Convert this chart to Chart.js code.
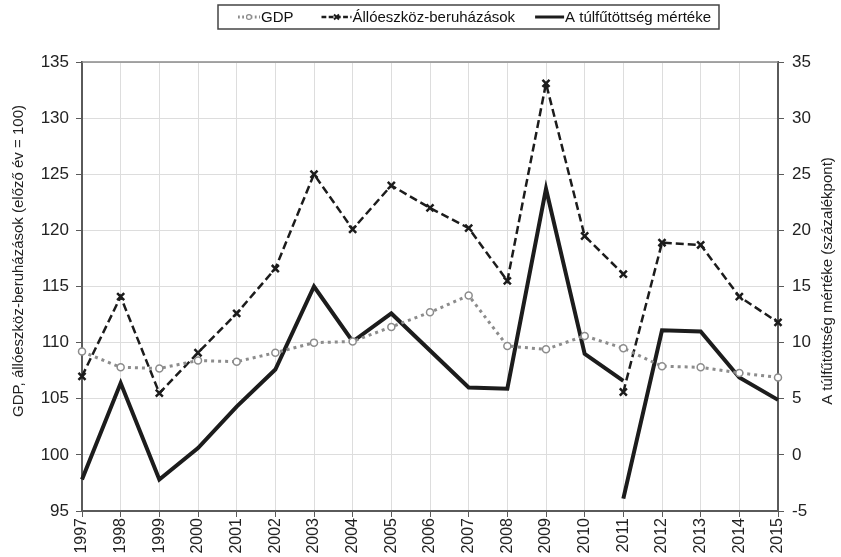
<!DOCTYPE html>
<html lang="hu">
<head>
<meta charset="utf-8">
<script src="https://cdn.jsdelivr.net/npm/chart.js@4.4.1/dist/chart.umd.min.js"></script>
<style>
  html, body { margin: 0; padding: 0; background: #fff; }
  #wrap { width: 841px; height: 557px; position: relative; }
</style>
</head>
<body>
<div id="wrap"><canvas id="chart"></canvas></div>
<script>
// ---- Adatok ----
const years = ['1997', '1998', '1999', '2000', '2001', '2002', '2003', '2004', '2005', '2006',
               '2007', '2008', '2009', '2010', '2011', '2012', '2013', '2014', '2015'];
const gdp = [109.2, 107.8, 107.7, 108.4, 108.3, 109.1, 110.0, 110.1, 111.4, 112.7,
             114.2, 109.7, 109.4, 110.6, 109.5, 107.9, 107.8, 107.3, 106.9];
// 2011-ben törés: két érték ugyanarra az évre
const beruhazasElotte = [107.0, 114.1, 105.5, 109.1, 112.6, 116.6, 125.0, 120.1, 124.0, 122.0,
                         120.2, 115.5, 133.1, 119.5, 116.1];          // 1997-2011
const beruhazasUtana = [105.6, 118.9, 118.7, 114.1, 111.8];          // 2011-2015
const tulfutottsegElotte = [-2.2, 6.4, -2.2, 0.6, 4.3, 7.6, 15.0, 10.1, 12.6, 9.3,
                            6.0, 5.9, 23.7, 9.0, 6.6];                 // 1997-2011
const tulfutottsegUtana = [-3.9, 11.1, 11.0, 6.9, 4.9];               // 2011-2015

const leftRange  = { min: 95, max: 135, step: 5 };
const rightRange = { min: -5, max: 35, step: 5 };

const FONT = "'Liberation Sans', Arial, sans-serif";
const INK = '#1c1c1c';
const GREY = '#8c8c8c';
const AXIS = '#5a5a5a';
const GRID = '#dddddd';

const padEnd   = arr => arr.concat(Array(years.length - arr.length).fill(null));
const padStart = arr => Array(years.length - arr.length).fill(null).concat(arr);

const gdpStyle = {
    borderColor: GREY, borderWidth: 3, borderDash: [3, 4],
    pointStyle: 'circle', pointRadius: 3.5, pointBorderWidth: 1.5,
    pointBorderColor: GREY, pointBackgroundColor: '#fff'
};
const invStyle = {
    borderColor: INK, borderWidth: 2.5, borderDash: [8, 4],
    pointStyle: 'crossRot', pointRadius: 5, pointBorderWidth: 2.5,
    pointBorderColor: INK, pointBackgroundColor: INK
};
const heatStyle = {
    borderColor: INK, borderWidth: 4, borderDash: [],
    pointRadius: 0, pointStyle: false
};

// ---- Legend + keret + tengelycímek ----
const decor = {
    id: 'decor',
    afterDraw(chart) {
        const { ctx, chartArea: a } = chart;
        ctx.save();

        // felső keret
        ctx.strokeStyle = '#8a8a8a';
        ctx.lineWidth = 1.5;
        ctx.beginPath();
        ctx.moveTo(a.left, a.top);
        ctx.lineTo(a.right, a.top);
        ctx.stroke();

        // tengelycímek
        ctx.fillStyle = '#222';
        ctx.font = `15px ${FONT}`;
        ctx.textAlign = 'center';
        ctx.textBaseline = 'middle';
        ctx.save();
        ctx.translate(19, 261);
        ctx.rotate(-Math.PI / 2);
        ctx.fillText('GDP, állóeszköz-beruházások (előző év = 100)', 0, 0);
        ctx.restore();
        ctx.save();
        ctx.translate(828, 281);
        ctx.rotate(-Math.PI / 2);
        ctx.fillText('A túlfűtöttség mértéke (százalékpont)', 0, 0);
        ctx.restore();

        // jelmagyarázat
        const items = [
            { text: 'GDP', style: gdpStyle, w: 22, gap: 28 },
            { text: 'Állóeszköz-beruházások', style: invStyle, w: 30, gap: 20 },
            { text: 'A túlfűtöttség mértéke', style: heatStyle, w: 29, gap: 0 }
        ];
        ctx.font = `15px ${FONT}`;
        const padL = 20, padR = 8;
        const total = items.reduce((s, it) => s + it.w + 1 + ctx.measureText(it.text).width + it.gap, 0);
        const boxW = padL + total + padR;
        const boxX = 218, boxY = 5, boxH = 24;
        ctx.strokeStyle = '#444';
        ctx.lineWidth = 1.5;
        ctx.strokeRect(boxX, boxY, boxW, boxH);

        const cy = boxY + boxH / 2;
        let x = boxX + padL;
        items.forEach(it => {
            const s = it.style;
            ctx.save();
            ctx.strokeStyle = s.borderColor;
            ctx.lineWidth = Math.min(s.borderWidth, 3);
            ctx.setLineDash(s.borderDash.length ? s.borderDash.map(v => v * 0.6) : []);
            ctx.beginPath();
            ctx.moveTo(x, cy);
            ctx.lineTo(x + it.w, cy);
            ctx.stroke();
            ctx.setLineDash([]);
            if (s.pointStyle) {
                ctx.strokeStyle = s.pointBorderColor;
                ctx.fillStyle = s.pointBackgroundColor;
                ctx.lineWidth = s.pointBorderWidth * 0.8;
                Chart.helpers.drawPoint(ctx, {
                    pointStyle: s.pointStyle, rotation: 0,
                    radius: s.pointRadius * 0.7, borderWidth: s.pointBorderWidth * 0.8
                }, x + it.w / 2, cy);
            }
            ctx.restore();
            ctx.fillStyle = '#111';
            ctx.textAlign = 'left';
            ctx.textBaseline = 'middle';
            ctx.fillText(it.text, x + it.w + 1, cy + 1);
            x += it.w + 1 + ctx.measureText(it.text).width + it.gap;
        });

        ctx.restore();
    }
};

new Chart(document.getElementById('chart'), {
    type: 'line',
    data: {
        labels: years,
        datasets: [
            { label: 'GDP', data: gdp, yAxisID: 'y', ...gdpStyle },
            { label: 'Állóeszköz-beruházások', data: padEnd(beruhazasElotte), yAxisID: 'y', ...invStyle },
            { label: 'Állóeszköz-beruházások (2011-től)', data: padStart(beruhazasUtana), yAxisID: 'y', ...invStyle },
            { label: 'A túlfűtöttség mértéke', data: padEnd(tulfutottsegElotte), yAxisID: 'y1', ...heatStyle },
            { label: 'A túlfűtöttség mértéke (2011-től)', data: padStart(tulfutottsegUtana), yAxisID: 'y1', ...heatStyle }
        ]
    },
    options: {
        responsive: true,
        maintainAspectRatio: false,
        animation: false,
        layout: { padding: { top: 62, left: 0, right: 0, bottom: 0 } },
        elements: { line: { tension: 0, borderJoinStyle: 'miter' } },
        plugins: {
            legend: { display: false },
            tooltip: { enabled: false }
        },
        scales: {
            x: {
                grid: { color: GRID, tickColor: AXIS, tickLength: 6 },
                border: { color: AXIS, width: 2 },
                ticks: {
                    autoSkip: false, minRotation: 90, maxRotation: 90,
                    color: '#222', padding: 1,
                    font: { family: FONT, size: 16 }
                },
                afterFit: s => { s.height = 46; }
            },
            y: {
                position: 'left',
                min: leftRange.min, max: leftRange.max,
                grid: { color: GRID, tickColor: AXIS, tickLength: 6 },
                border: { color: AXIS, width: 2 },
                ticks: {
                    stepSize: leftRange.step, color: '#222', padding: 7,
                    font: { family: FONT, size: 17 }
                },
                afterFit: s => { s.width = 82; }
            },
            y1: {
                position: 'right',
                min: rightRange.min, max: rightRange.max,
                grid: { drawOnChartArea: false, tickColor: AXIS, tickLength: 6 },
                border: { color: AXIS, width: 2 },
                ticks: {
                    stepSize: rightRange.step, color: '#222', padding: 8,
                    font: { family: FONT, size: 17 }
                },
                afterFit: s => { s.width = 63; }
            }
        }
    },
    plugins: [decor]
});
</script>
</body>
</html>
